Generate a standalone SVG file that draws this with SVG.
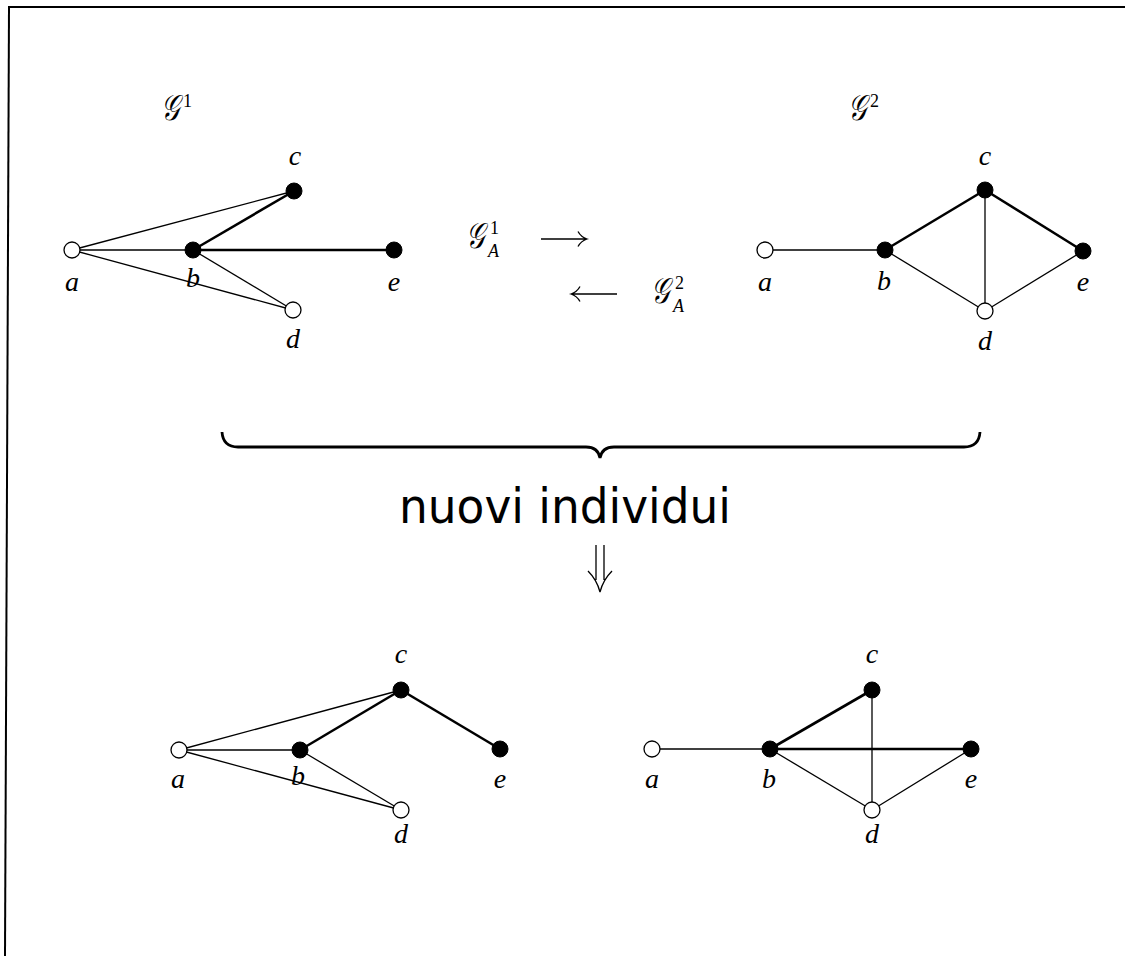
<svg xmlns="http://www.w3.org/2000/svg" width="1125" height="956" viewBox="0 0 1125 956">
<style>
.thin{stroke:#000;stroke-width:1.3;fill:none}
.thick{stroke:#000;stroke-width:2.6;fill:none}
.open{fill:#fff;stroke:#000;stroke-width:1.3}
.full{fill:#000;stroke:#000;stroke-width:1}
.lbl{font-family:"Liberation Serif",serif;font-style:italic;font-size:28px;text-anchor:middle;fill:#000}
.cal{font-family:"DejaVu Serif","DejaVu Sans",serif;font-style:italic;font-size:36px;fill:#000}
.sup{font-family:"Liberation Serif",serif;font-size:18px;fill:#000}
.sub{font-family:"Liberation Serif",serif;font-style:italic;font-size:18px;fill:#000}
.arr{stroke:#000;stroke-width:1.3;fill:none}
</style>
<rect width="1125" height="956" fill="#fff"/>
<g id="frame">
<line x1="8" y1="7" x2="1125" y2="7" stroke="#000" stroke-width="2"/>
<line x1="9" y1="7" x2="5" y2="956" stroke="#000" stroke-width="2"/>
</g>

<g id="connectors">
<!-- G1 -->
<line class="thin" x1="72" y1="250" x2="294" y2="191"/>
<line class="thin" x1="72" y1="250" x2="193" y2="250"/>
<line class="thin" x1="72" y1="250" x2="293" y2="310"/>
<line class="thick" x1="193" y1="250" x2="294" y2="191"/>
<line class="thick" x1="193" y1="250" x2="394" y2="250"/>
<line class="thin" x1="193" y1="250" x2="293" y2="310"/>
<!-- G2 -->
<line class="thin" x1="765" y1="250" x2="885" y2="250"/>
<line class="thick" x1="885" y1="250" x2="985" y2="190"/>
<line class="thick" x1="985" y1="190" x2="1083" y2="251"/>
<line class="thin" x1="985" y1="190" x2="985" y2="311"/>
<line class="thin" x1="885" y1="250" x2="985" y2="311"/>
<line class="thin" x1="985" y1="311" x2="1083" y2="251"/>
<!-- bottom left -->
<line class="thin" x1="179" y1="750" x2="401" y2="690"/>
<line class="thin" x1="179" y1="750" x2="300" y2="750"/>
<line class="thin" x1="179" y1="750" x2="401" y2="810"/>
<line class="thick" x1="300" y1="750" x2="401" y2="690"/>
<line class="thick" x1="401" y1="690" x2="500" y2="749"/>
<line class="thin" x1="300" y1="750" x2="401" y2="810"/>
<!-- bottom right -->
<line class="thin" x1="652" y1="749" x2="770" y2="749"/>
<line class="thick" x1="770" y1="749" x2="872" y2="690"/>
<line class="thick" x1="770" y1="749" x2="971" y2="749"/>
<line class="thin" x1="872" y1="690" x2="872" y2="810"/>
<line class="thin" x1="770" y1="749" x2="872" y2="810"/>
<line class="thin" x1="872" y1="810" x2="971" y2="749"/>
</g>

<g id="G1">
<text transform="translate(161,120) scale(0.72,1)" class="cal">𝒢</text><text x="183" y="107" class="sup">1</text>
<g id="G1-a"><circle class="open" cx="72" cy="250" r="8"/><text class="lbl" x="72" y="291">a</text></g>
<g id="G1-b"><circle class="full" cx="193" cy="250" r="8"/><text class="lbl" x="193" y="287">b</text></g>
<g id="G1-c"><circle class="full" cx="294" cy="191" r="8"/><text class="lbl" x="295" y="165">c</text></g>
<g id="G1-d"><circle class="open" cx="293" cy="310" r="8"/><text class="lbl" x="293" y="348">d</text></g>
<g id="G1-e"><circle class="full" cx="394" cy="250" r="8"/><text class="lbl" x="394" y="291">e</text></g>
</g>

<g id="G2">
<text transform="translate(848,120) scale(0.72,1)" class="cal">𝒢</text><text x="870" y="107" class="sup">2</text>
<g id="G2-a"><circle class="open" cx="765" cy="250" r="8"/><text class="lbl" x="765" y="291">a</text></g>
<g id="G2-b"><circle class="full" cx="885" cy="250" r="8"/><text class="lbl" x="884" y="290">b</text></g>
<g id="G2-c"><circle class="full" cx="985" cy="190" r="8"/><text class="lbl" x="985" y="165">c</text></g>
<g id="G2-d"><circle class="open" cx="985" cy="311" r="8"/><text class="lbl" x="985" y="350">d</text></g>
<g id="G2-e"><circle class="full" cx="1083" cy="251" r="8"/><text class="lbl" x="1083" y="291">e</text></g>
</g>

<g id="exchange">
<text transform="translate(466,248) scale(0.72,1)" class="cal">𝒢</text><text x="490" y="234" class="sup">1</text><text x="488" y="257" class="sub">A</text>
<path class="arr" d="M541,239 H586 M578,231.5 Q581,237 587,239 Q581,241 578,246.5"/>
<path class="arr" d="M572,294 H617 M580,286.5 Q577,292 571,294 Q577,296 580,301.5"/>
<text transform="translate(651,303) scale(0.72,1)" class="cal">𝒢</text><text x="675" y="289" class="sup">2</text><text x="673" y="312" class="sub">A</text>
</g>

<g id="brace">
<path d="M222,432 Q223,447 238,447 H586 Q598,447 600,458 Q602,447 614,447 H964 Q979,447 980,432" stroke="#000" stroke-width="2.8" fill="none"/>
</g>

<g id="caption">
<text x="565" y="523" font-family="DejaVu Sans,sans-serif" font-size="48" text-anchor="middle" textLength="332" lengthAdjust="spacingAndGlyphs">nuovi individui</text>
<path class="arr" d="M596,545 V580 M604,545 V580 M588,571 Q597,580 600,592 Q603,580 612,571"/>
</g>

<g id="B1">
<g id="B1-a"><circle class="open" cx="179" cy="750" r="8"/><text class="lbl" x="178" y="788">a</text></g>
<g id="B1-b"><circle class="full" cx="300" cy="750" r="8"/><text class="lbl" x="298" y="785">b</text></g>
<g id="B1-c"><circle class="full" cx="401" cy="690" r="8"/><text class="lbl" x="401" y="663">c</text></g>
<g id="B1-d"><circle class="open" cx="401" cy="810" r="8"/><text class="lbl" x="401" y="843">d</text></g>
<g id="B1-e"><circle class="full" cx="500" cy="749" r="8"/><text class="lbl" x="500" y="788">e</text></g>
</g>

<g id="B2">
<g id="B2-a"><circle class="open" cx="652" cy="749" r="8"/><text class="lbl" x="652" y="788">a</text></g>
<g id="B2-b"><circle class="full" cx="770" cy="749" r="8"/><text class="lbl" x="769" y="788">b</text></g>
<g id="B2-c"><circle class="full" cx="872" cy="690" r="8"/><text class="lbl" x="872" y="663">c</text></g>
<g id="B2-d"><circle class="open" cx="872" cy="810" r="8"/><text class="lbl" x="872" y="843">d</text></g>
<g id="B2-e"><circle class="full" cx="971" cy="749" r="8"/><text class="lbl" x="971" y="788">e</text></g>
</g>
</svg>
